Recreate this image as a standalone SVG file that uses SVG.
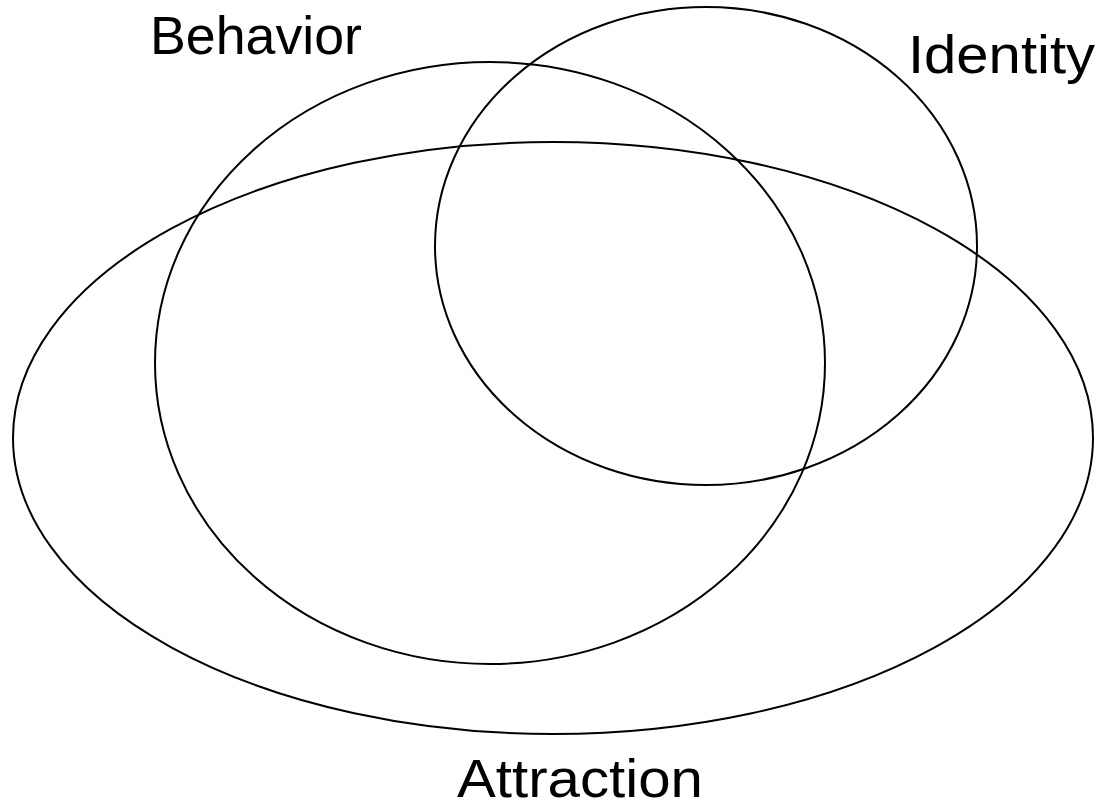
<svg xmlns="http://www.w3.org/2000/svg" width="1102" height="809" viewBox="0 0 1102 809">
<style>
.set{fill:none;stroke:#000;stroke-width:2}
.lbl{font-family:"Liberation Sans","Open Sans",sans-serif;font-size:53px;fill:#000}
</style>
<rect width="1102" height="809" fill="#fff"/>
<g id="attraction">
<ellipse class="set" cx="553" cy="438" rx="540" ry="296"/>
<text class="lbl" x="457" y="797" textLength="246" lengthAdjust="spacingAndGlyphs">Attraction</text>
</g>
<g id="behavior">
<ellipse class="set" cx="490" cy="363" rx="335" ry="301"/>
<text class="lbl" x="150" y="54" textLength="212" lengthAdjust="spacingAndGlyphs">Behavior</text>
</g>
<g id="identity">
<ellipse class="set" cx="706" cy="246" rx="271" ry="239"/>
<text class="lbl" x="908" y="73" textLength="187" lengthAdjust="spacingAndGlyphs">Identity</text>
</g>
</svg>
